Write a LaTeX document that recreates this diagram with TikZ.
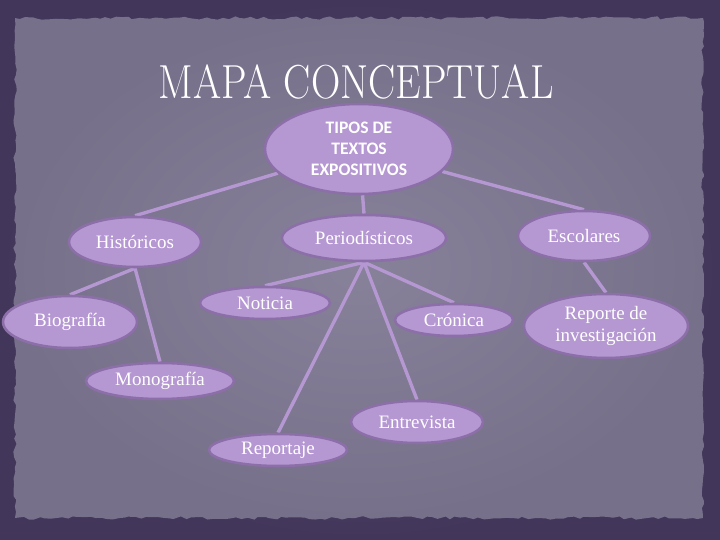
\documentclass[tikz,border=0pt]{standalone}
\usepackage{fontspec}
\usepackage{graphicx}
\usetikzlibrary{shapes.geometric,shadows,decorations.pathmorphing}
\newfontfamily\labelfont{Liberation Serif}
\newfontfamily\rootfont{Carlito}
\definecolor{framein}{HTML}{5A4C72}
\definecolor{frameout}{HTML}{42365A}
\definecolor{paperin}{HTML}{87819A}
\definecolor{paperout}{HTML}{77708A}
\definecolor{lilac}{HTML}{B597D2}
\definecolor{lilacdark}{HTML}{8C6EA8}
\pgfdeclarelayer{paper}
\pgfdeclarelayer{links}
\pgfsetlayers{paper,links,main}

\begin{document}
\begin{tikzpicture}[
    concept/.style={ellipse, draw=lilacdark, line width=1.8pt, fill=lilac, inner sep=0pt,
      text=white, align=center, font=\labelfont\fontsize{13.5}{15}\selectfont,
      drop shadow={opacity=0.25, shadow xshift=0.6pt, shadow yshift=-0.8pt}},
    link/.style={draw=lilac, line width=2.4pt}
  ]
        \useasboundingbox (0,0) rectangle (18,13.5);

        % Paper
        \begin{pgfonlayer}{paper}
        \shade[inner color=framein, outer color=frameout] (0,0) rectangle (18,13.5);
        \pgfmathsetseed{42}
        \shade[inner color=paperin, outer color=paperout, decorate,
          decoration={random steps, segment length=4pt, amplitude=1.2pt}]
          (0.375,0.55) rectangle (17.575,13.05);
        \end{pgfonlayer}

        % Title
        \node (title) at (8.9,11.45) [text=white]
          {\scalebox{0.85}[1]{\fontsize{34}{34}\selectfont MAPA CONCEPTUAL}};

        % Nodes
        \node (T) at (8.975,9.775) [concept, minimum width=4.7cm, minimum height=2.25cm,
          font=\rootfont\bfseries\fontsize{12.5}{15}\selectfont] {TIPOS DE\\TEXTOS\\EXPOSITIVOS};
        \node (H) at (3.375,7.45) [concept, minimum width=3.3cm, minimum height=1.25cm] {Históricos};
        \node (P) at (9.1,7.55) [concept, minimum width=4.1cm, minimum height=1.15cm] {Periodísticos};
        \node (E) at (14.6,7.6) [concept, minimum width=3.3cm, minimum height=1.25cm] {Escolares};
        \node (B) at (1.75,5.45) [concept, minimum width=3.35cm, minimum height=1.3cm] {Biografía};
        \node (N) at (6.625,5.925) [concept, minimum width=3.25cm, minimum height=0.8cm] {Noticia};
        \node (C) at (11.35,5.5) [concept, minimum width=2.95cm, minimum height=0.8cm] {Crónica};
        \node (I) at (15.15,5.35) [concept, minimum width=4.1cm, minimum height=1.6cm] {Reporte de\\investigación};
        \node (M) at (4.0,3.975) [concept, minimum width=3.7cm, minimum height=0.9cm] {Monografía};
        \node (V) at (10.425,2.95) [concept, minimum width=3.3cm, minimum height=1.05cm] {Entrevista};
        \node (R) at (6.95,2.25) [concept, minimum width=3.45cm, minimum height=0.8cm] {Reportaje};

        % Edges
        \begin{pgfonlayer}{links}
        \draw[link] (T) -- (H.north);
        \draw[link] (T) -- (P.north);
        \draw[link] (T) -- (E.north);
        \draw[link] (H.south) -- (B.north);
        \draw[link] (H.south) -- (M.north);
        \draw[link] (P.south) -- (N.north);
        \draw[link] (P.south) -- (C.north);
        \draw[link] (P.south) -- (R.north);
        \draw[link] (P.south) -- (V.north);
        \draw[link] (E.south) -- (I.north);
        \end{pgfonlayer}
    \end{tikzpicture}
\end{document}
